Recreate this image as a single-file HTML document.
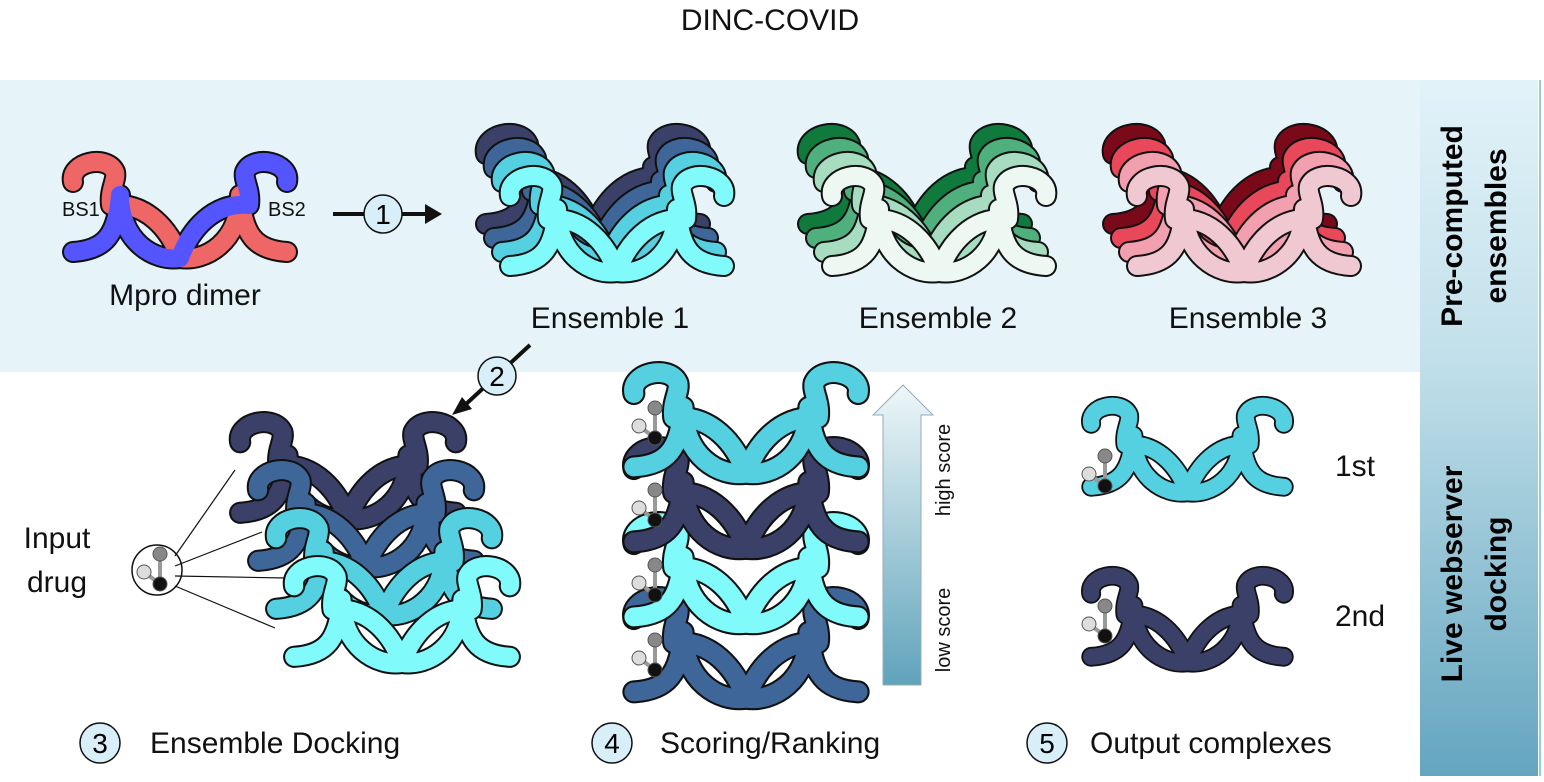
<!DOCTYPE html>
<html><head><meta charset="utf-8"><style>
html,body{margin:0;padding:0;background:#fff;}
svg{display:block;font-family:"Liberation Sans",Arial,sans-serif;}
</style></head><body>
<svg id="fig" width="1544" height="782" viewBox="0 0 1544 782">
<defs>
<linearGradient id="side" x1="0" y1="0" x2="0" y2="1">
<stop offset="0" stop-color="#e2f2f9"/><stop offset="0.4" stop-color="#c2e0ea"/><stop offset="1" stop-color="#64a5bf"/></linearGradient>
<linearGradient id="arr" x1="0" y1="1" x2="0" y2="0">
<stop offset="0" stop-color="#5fa3bb"/><stop offset="1" stop-color="#eef7f8"/></linearGradient>
</defs>
<text x="770" y="30" font-size="30" text-anchor="middle" fill="#111">DINC-COVID</text>
<rect x="0" y="80" width="1420" height="292" fill="#e6f4fa"/>
<rect x="1420" y="80" width="118" height="696" fill="url(#side)"/>
<line x1="1540" y1="80" x2="1540" y2="776" stroke="#9cc" stroke-width="2"/>
<text transform="translate(1462,226) rotate(-90)" font-size="30" font-weight="bold" text-anchor="middle"><tspan x="0" dy="0">Pre-computed</tspan><tspan x="0" dy="44">ensembles</tspan></text>
<text transform="translate(1462,574) rotate(-90)" font-size="30" font-weight="bold" text-anchor="middle"><tspan x="0" dy="0">Live webserver</tspan><tspan x="0" dy="44">docking</tspan></text>
<g id="marks"></g>
<g id="labels" font-size="30" fill="#111">
<text x="185" y="305" text-anchor="middle">Mpro dimer</text>
<text x="62" y="216" font-size="20">BS1</text>
<text x="268" y="216" font-size="20">BS2</text>
<text x="610" y="328" text-anchor="middle">Ensemble 1</text>
<text x="938" y="328" text-anchor="middle">Ensemble 2</text>
<text x="1248" y="328" text-anchor="middle">Ensemble 3</text>
<text x="57" y="548" text-anchor="middle">Input</text>
<text x="57" y="592" text-anchor="middle">drug</text>
<text x="1335" y="476">1st</text>
<text x="1335" y="626">2nd</text>
<text transform="translate(950,470) rotate(-90)" font-size="20" text-anchor="middle">high score</text>
<text transform="translate(950,630) rotate(-90)" font-size="20" text-anchor="middle">low score</text>
<text x="150" y="753">Ensemble Docking</text>
<text x="660" y="753">Scoring/Ranking</text>
<text x="1090" y="753">Output complexes</text>
</g>
</svg>
<script>
const NS="http://www.w3.org/2000/svg";
const marks=document.getElementById('marks');
const CH="M18,32 C14,12 52,4 60,22 C62,30 54,40 56,55 C92,52 115,80 125,108 C150,112 185,92 185,45 C188,85 200,100 232,102";
function el(t,a,p){const e=document.createElementNS(NS,t);for(const k in a)e.setAttribute(k,a[k]);(p||marks).appendChild(e);return e;}
function dimer(name,x,y,w,c1,c2){
  const g=el('g',{transform:`translate(${x},${y}) scale(${w/250})`});
  
  
  const sub=[[CH,c1,''],[CH,c2,'translate(250,0) scale(-1,1)']];
  sub.forEach(s=>{el('path',{d:s[0],transform:s[2],fill:'none',stroke:'#111','stroke-width':22,'stroke-linecap':'round','stroke-linejoin':'round'},g);});
  sub.forEach(s=>{el('path',{d:s[0],transform:s[2],fill:'none',stroke:s[1],'stroke-width':18,'stroke-linecap':'round','stroke-linejoin':'round'},g);});
  return g;
}
function lig(name,x,y,cols){
  const g=el('g',{});
  
  
  const pts=[[x,y-30],[x-16,y-12],[x,y]];
  el('line',{x1:pts[0][0],y1:pts[0][1],x2:pts[2][0],y2:pts[2][1],stroke:'#999','stroke-width':4},g);
  el('line',{x1:pts[1][0],y1:pts[1][1],x2:pts[2][0],y2:pts[2][1],stroke:'#999','stroke-width':4},g);
  pts.forEach((p,i)=>el('circle',{cx:p[0],cy:p[1],r:7,fill:cols[i],stroke:'#555','stroke-width':1},g));
}
// Mpro
dimer('mpro-dimer',55,150,250,'#ee6666','#5555ff');
// Ensembles
const ens1=['#3a4068','#3f6699','#55d0e0','#80fafa'];
const ens2=['#0f7a3c','#4fb07e','#a8dcc0','#eef8f2'];
const ens3=['#7a0a1a','#e8485a','#f2a0b0','#f0c8d2'];
[[ens1,468,'ensemble-1'],[ens2,790,'ensemble-2'],[ens3,1095,'ensemble-3']].forEach(e=>{
  e[0].forEach((c,i)=>dimer(e[2]+'-layer-'+(i+1),e[1]+i*8,122+i*14,250,c,c));
});
// step 1 arrow
el('line',{x1:333,y1:214,x2:428,y2:214,stroke:'#111','stroke-width':4});
el('path',{d:'M425,204 L442,214 L425,224 Z',fill:'#111'});
el('circle',{cx:383,cy:214,r:19,fill:'#d8effa',stroke:'#111','stroke-width':1.5});
el('text',{x:383,y:224,'font-size':28,'text-anchor':'middle'}).textContent='1';
// step 2 arrow
el('line',{x1:530,y1:345,x2:465,y2:405,stroke:'#111','stroke-width':4});
el('path',{d:'M452,415 L462,397 L472,409 Z',fill:'#111'});
el('circle',{cx:497,cy:376,r:19,fill:'#d8effa',stroke:'#111','stroke-width':1.5});
el('text',{x:497,y:386,'font-size':28,'text-anchor':'middle'}).textContent='2';
// docking stack
const dock=['#3a4068','#3f6699','#55d0e0','#80fafa'];
dock.forEach((c,i)=>dimer('docking-layer-'+(i+1),222+i*18,410+i*48,252,c,c));
// input drug
el('circle',{cx:157,cy:570,r:25,fill:'#fff',stroke:'#111','stroke-width':1.5});
lig('input-drug-molecule',160,584,['#888','#ddd','#111']);
[[235,470],[262,532],[285,578],[275,628]].forEach((p,i)=>{
  el('line',{x1:175,y1:556+i*10,x2:p[0],y2:p[1],stroke:'#111','stroke-width':1.2});
});
// scoring stack
const score=['#3f6699','#80fafa','#3a4068','#55d0e0'];
score.forEach((c,i)=>dimer('scoring-layer-'+(4-i),615,585-i*75,262,c,c));
[[655,438],[655,520],[655,595],[655,670]].forEach((p,i)=>lig('scoring-ligand-'+(i+1),p[0],p[1],['#888','#ddd','#111']));
// score arrow
el('path',{d:'M883,685 L883,415 L873,415 L903,385 L933,415 L921,415 L921,685 Z',fill:'url(#arr)',stroke:'#9ab','stroke-width':1});
// outputs
dimer('output-first',1075,395,225,'#55d0e0','#55d0e0');
lig('output-first-ligand',1105,486,['#888','#ddd','#111']);
dimer('output-second',1075,565,225,'#3a4068','#3a4068');
lig('output-second-ligand',1105,636,['#888','#ddd','#111']);
// step circles
[[100,'3'],[612,'4'],[1047,'5']].forEach((s,i)=>{
  const c=el('circle',{cx:s[0],cy:743,r:20,fill:'#d8effa',stroke:'#111','stroke-width':1.5});
  
  
  el('text',{x:s[0],y:753,'font-size':28,'text-anchor':'middle'}).textContent=s[1];
});
</script>
</body></html>
